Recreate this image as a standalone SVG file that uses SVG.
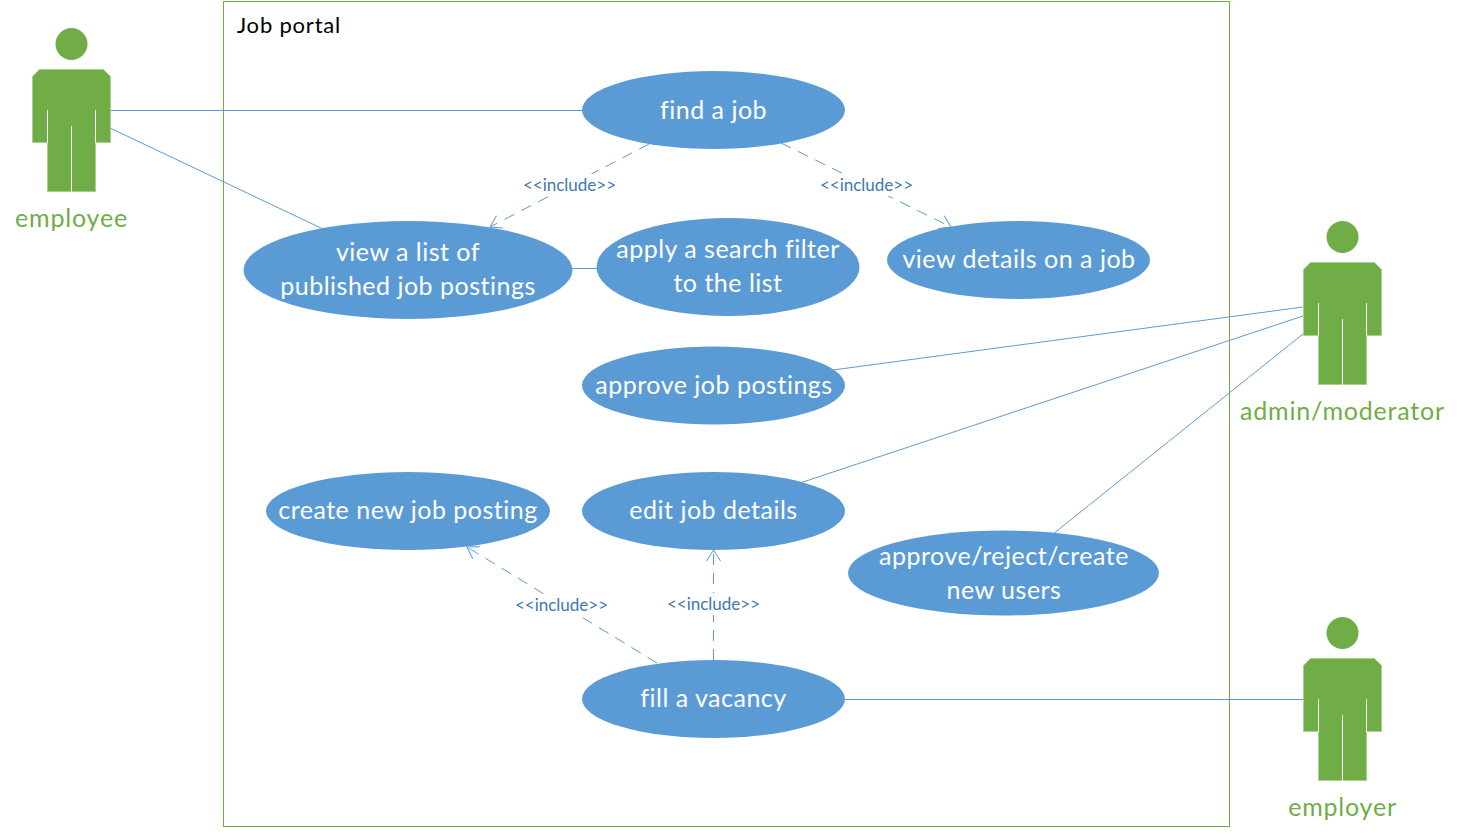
<svg xmlns="http://www.w3.org/2000/svg" xmlns:xlink="http://www.w3.org/1999/xlink" width="1460" height="838" viewBox="0 0 1460 838">
<style>
text{font-family:"Lato","Open Sans","Liberation Sans",sans-serif;text-anchor:middle}
.e{fill:#5b9bd5}
.t{fill:#fff;font-size:25px;letter-spacing:.5px}
.a{fill:#70ad47;font-size:25px;letter-spacing:.8px}
.l{fill:#3f78ae;font-size:17px}
.c{fill:none;stroke:#5b9bd5;stroke-width:1}
.d{stroke-dasharray:11 8}
</style>
<defs>
<marker id="o" markerUnits="userSpaceOnUse" markerWidth="16" markerHeight="20" refX="14" refY="10" orient="auto"><path d="M3 3L14 10L3 17" fill="none" stroke="#5b9bd5"/></marker>
<g id="person">
<circle cx="39.500" cy="-25" r="16" fill="#70ad47"/>
<path d="M7.500 .5H71.500L78.500 7.500V73.500H63.500V122.500H15.500V73.500H.5V7.500Z" fill="#70ad47" stroke="#a9d18e" stroke-width="1"/>
<path d="M15.500 41V74M63.500 41V74M39.500 57V123" fill="none" stroke="#fff" stroke-width="1"/>
</g>
</defs>
<rect id="system" x="223.500" y="1.500" width="1006" height="825" fill="#fff" stroke="#70ad47" stroke-width="1"/>
<text x="289" y="33" style="font-size:22px;letter-spacing:.8px" fill="#000">Job portal</text>
<g id="connectors">
<path class="c" d="M110 110.500H583M110 128L323 229M572 268.500H598M833 370L1303 307M800 483L1303 316M1053 534L1303 334M845 699.500H1303"/>
<path class="c d" d="M649 144L490 227" marker-end="url(#o)"/>
<path class="c d" d="M781 143L951 227" marker-end="url(#o)"/>
<path class="c d" d="M657 663L467 547" marker-end="url(#o)"/>
<path class="c d" d="M713.500 660V550" marker-end="url(#o)"/>
</g>
<g id="actor-employee"><use xlink:href="#person" x="32" y="69"/><text class="a" x="71.500" y="227">employee</text></g>
<g id="actor-admin"><use xlink:href="#person" x="1303" y="262"/><text class="a" x="1342.500" y="420">admin/moderator</text></g>
<g id="actor-employer"><use xlink:href="#person" x="1303" y="658"/><text class="a" x="1342.500" y="816">employer</text></g>
<g id="uc-find"><ellipse class="e" cx="713.500" cy="110" rx="131.500" ry="39"/><text class="t" x="713.500" y="119">find a job</text></g>
<g id="uc-list"><ellipse class="e" cx="408" cy="270" rx="164.500" ry="49"/><text class="t" x="408" y="261">view a list of</text><text class="t" x="408" y="295">published job postings</text></g>
<g id="uc-filter"><ellipse class="e" cx="728" cy="267" rx="131.500" ry="49"/><text class="t" x="728" y="258">apply a search filter</text><text class="t" x="728" y="292">to the list</text></g>
<g id="uc-details"><ellipse class="e" cx="1018.500" cy="260" rx="131.500" ry="39"/><text class="t" x="1019" y="268">view details on a job</text></g>
<g id="uc-approve"><ellipse class="e" cx="713.500" cy="385.500" rx="131.500" ry="39"/><text class="t" x="714" y="394">approve job postings</text></g>
<g id="uc-create"><ellipse class="e" cx="408" cy="511" rx="142" ry="39"/><text class="t" x="408" y="519">create new job posting</text></g>
<g id="uc-edit"><ellipse class="e" cx="713.500" cy="511" rx="131.500" ry="39"/><text class="t" x="713.500" y="519">edit job details</text></g>
<g id="uc-users"><ellipse class="e" cx="1003.500" cy="573" rx="155.500" ry="42.500"/><text class="t" x="1004" y="565">approve/reject/create</text><text class="t" x="1004" y="599">new users</text></g>
<g id="uc-vacancy"><ellipse class="e" cx="713.500" cy="699" rx="131.500" ry="39"/><text class="t" x="713.500" y="707">fill a vacancy</text></g>
<g id="labels">
<rect x="522" y="174" width="95" height="22" fill="#fff"/><text class="l" x="569.500" y="191">&lt;&lt;include&gt;&gt;</text>
<rect x="819" y="174" width="95" height="22" fill="#fff"/><text class="l" x="866.500" y="191">&lt;&lt;include&gt;&gt;</text>
<rect x="514" y="594" width="95" height="22" fill="#fff"/><text class="l" x="561.500" y="611">&lt;&lt;include&gt;&gt;</text>
<rect x="666" y="593" width="95" height="22" fill="#fff"/><text class="l" x="713.500" y="610">&lt;&lt;include&gt;&gt;</text>
</g>
</svg>
